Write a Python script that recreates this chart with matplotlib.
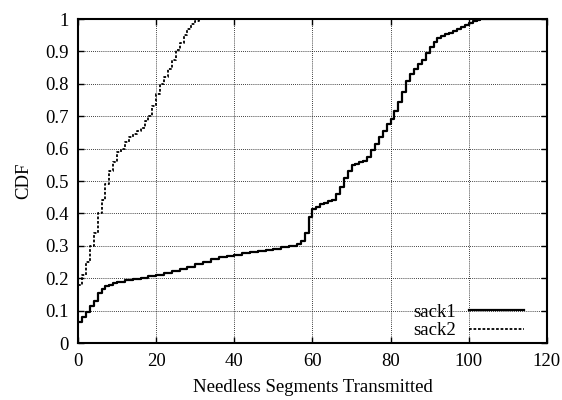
import numpy as np
import matplotlib
matplotlib.use("Agg")
import matplotlib.pyplot as plt

plt.rcParams['font.family'] = ['Liberation Serif', 'DejaVu Serif']

# sack1: needless segments vs CDF
sack1_x = [0, 1, 2, 3, 4, 5, 6, 7, 8, 9, 10, 12, 14, 16, 18, 20, 22, 24, 26, 28,
           30, 32, 34, 36, 38, 40, 42, 44, 46, 48, 50, 52, 54, 56, 57, 58, 59, 60,
           61, 62, 63, 64, 65, 66, 67, 68, 69, 70, 71, 72, 73, 74, 75, 76, 77, 78,
           79, 80, 81, 82, 83, 84, 85, 86, 87, 88, 89, 90, 91, 92, 93, 94, 95, 96,
           97, 98, 99, 100, 101, 102, 103, 120]
sack1_cdf = [0.066, 0.08, 0.095, 0.115, 0.13, 0.155, 0.168, 0.175, 0.18, 0.184,
             0.188, 0.193, 0.198, 0.202, 0.206, 0.21, 0.216, 0.222, 0.229, 0.236,
             0.244, 0.251, 0.258, 0.264, 0.269, 0.273, 0.277, 0.281, 0.285, 0.288,
             0.291, 0.295, 0.300, 0.307, 0.315, 0.34, 0.39, 0.415, 0.42, 0.428,
             0.433, 0.437, 0.441, 0.46, 0.48, 0.51, 0.53, 0.548, 0.553, 0.558,
             0.562, 0.575, 0.595, 0.615, 0.635, 0.655, 0.675, 0.69, 0.715, 0.745,
             0.775, 0.81, 0.83, 0.845, 0.86, 0.875, 0.895, 0.915, 0.93, 0.94,
             0.947, 0.953, 0.958, 0.964, 0.97, 0.975, 0.98, 0.988, 0.993, 0.997,
             1.0, 1.0]

# sack2
sack2_x = [0, 1, 2, 3, 4, 5, 6, 7, 8, 9, 10, 11, 12, 13, 14, 15, 16, 17, 18, 19,
           20, 21, 22, 23, 24, 25, 26, 27, 28, 29, 30, 31, 120]
sack2_cdf = [0.18, 0.21, 0.25, 0.30, 0.34, 0.40, 0.44, 0.49, 0.53, 0.56, 0.59,
             0.60, 0.62, 0.635, 0.645, 0.655, 0.665, 0.685, 0.70, 0.73, 0.77,
             0.80, 0.82, 0.845, 0.875, 0.905, 0.925, 0.95, 0.97, 0.985, 0.995,
             1.0, 1.0]

x_ticks = [0, 20, 40, 60, 80, 100, 120]
y_ticks = [0, 0.1, 0.2, 0.3, 0.4, 0.5, 0.6, 0.7, 0.8, 0.9, 1]
y_labels = ['0', '0.1', '0.2', '0.3', '0.4', '0.5', '0.6', '0.7', '0.8', '0.9', '1']

fig = plt.figure(figsize=(5.62, 4.0), dpi=100)
ax = fig.add_axes([0.139, 0.1425, 0.834, 0.81])

ax.plot(sack1_x, sack1_cdf, drawstyle='steps-post', color='black', lw=1.6,
        label='sack1')
ax.plot(sack2_x, sack2_cdf, drawstyle='steps-post', color='black', lw=1.3,
        linestyle=(0, (1.5, 1)), label='sack2')

ax.set_xlim(0, 120)
ax.set_ylim(0, 1)
ax.set_xticks(x_ticks)
ax.set_yticks(y_ticks)
ax.set_yticklabels(y_labels)
ax.tick_params(direction='in', top=True, right=True, labelsize=13.5, length=4,
               width=1, pad=7)
ax.grid(True, color='black', linestyle=(0, (1, 1.5)), lw=0.6)
for s in ax.spines.values():
    s.set_linewidth(1.5)

ax.set_xlabel('Needless Segments Transmitted', fontsize=13.5, labelpad=7)
ax.set_ylabel('CDF', fontsize=13.5, labelpad=9)

leg = ax.legend(loc='lower right', bbox_to_anchor=(0.951, 0.012),
                markerfirst=False, frameon=False, fontsize=13.5,
                handlelength=2.9, labelspacing=0.05, borderpad=0,
                borderaxespad=0, handletextpad=0.7)

fig.savefig('out.png', dpi=100)
